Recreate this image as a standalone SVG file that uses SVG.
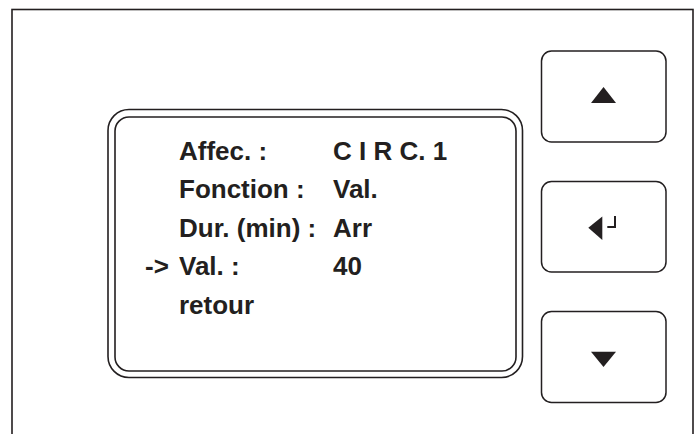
<svg xmlns="http://www.w3.org/2000/svg" width="700" height="434" viewBox="0 0 700 434">
<style>
.ln{fill:none;stroke:#231f20;stroke-width:1.6}
.btn{fill:#fff;stroke:#231f20;stroke-width:1.5}
.sym{fill:#231f20}
.t{font-family:"Liberation Sans",Arial,sans-serif;font-weight:bold;font-size:26px;fill:#231f20}
</style>
<rect width="700" height="434" fill="#fff"/>
<g id="frame"><rect class="ln" x="12" y="9.5" width="681" height="460" stroke-width="2"/></g>
<g id="display">
<rect class="ln" x="108" y="109.5" width="414.5" height="268" rx="21" ry="21"/>
<rect class="ln" x="115" y="117" width="401" height="254" rx="14" ry="14"/>
<text class="t" x="179" y="159.5">Affec. :</text>
<text class="t" x="333" y="159.5">C I R C. 1</text>
<text class="t" x="179" y="198">Fonction :</text>
<text class="t" x="333" y="198">Val.</text>
<text class="t" x="179" y="236.5">Dur. (min) :</text>
<text class="t" x="333" y="236.5">Arr</text>
<text class="t" x="145" y="275">-&gt;</text>
<text class="t" x="179" y="275">Val. :</text>
<text class="t" x="333" y="275">40</text>
<text class="t" x="179" y="313.5">retour</text>
</g>
<g id="btn-up">
<rect class="btn" x="541.5" y="51" width="124.5" height="91" rx="10" ry="10"/>
<polygon class="sym" points="603.5,87 591,103 616,103"/>
</g>
<g id="btn-enter">
<rect class="btn" x="541.5" y="181.5" width="124.5" height="90.5" rx="10" ry="10"/>
<polygon class="sym" points="588.3,227.7 602.3,216.5 602.3,240"/>
<polyline points="607.3,227 615,227 615,216" fill="none" stroke="#231f20" stroke-width="2"/>
</g>
<g id="btn-down">
<rect class="btn" x="541.5" y="311.5" width="124.5" height="91" rx="10" ry="10"/>
<polygon class="sym" points="591,351.7 616,351.7 603.5,367"/>
</g>
<g id="connectors"></g>
</svg>
